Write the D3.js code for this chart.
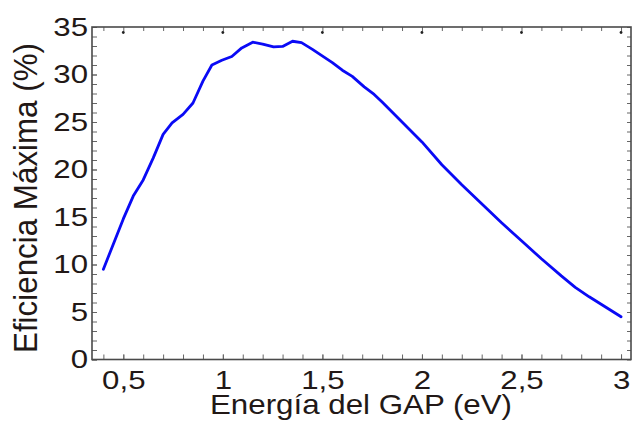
<!DOCTYPE html>
<html>
<head>
<meta charset="utf-8">
<script src="https://cdn.jsdelivr.net/npm/d3@7/dist/d3.min.js"></script>
<style>
    html, body { margin: 0; padding: 0; background: #fff; }
    #chart-area { width: 632px; height: 426px; }
    text { font-family: "Liberation Sans", Arial, sans-serif; fill: #221816; }
</style>
</head>
<body>
<div id="chart-area"></div>
<script>
// band gap (eV) vs. maximum efficiency (%)
const gapEnergy = [0.40, 0.50, 0.55, 0.60, 0.65, 0.70, 0.745, 0.80, 0.85, 0.90, 0.945, 0.995,
    1.045, 1.095, 1.15, 1.20, 1.255, 1.30, 1.35, 1.395, 1.45, 1.55, 1.60, 1.65, 1.71, 1.76,
    1.80, 1.90, 2.00, 2.10, 2.20, 2.30, 2.40, 2.50, 2.60, 2.70, 2.77, 2.84, 2.92, 3.00];
const efficiency = [9.5, 14.8, 17.2, 18.9, 21.2, 23.7, 24.9, 25.8, 27.0, 29.3, 31.0, 31.5,
    31.9, 32.8, 33.4, 33.2, 32.9, 32.95, 33.5, 33.35, 32.65, 31.25, 30.45, 29.8, 28.7, 27.9,
    27.1, 25.0, 22.9, 20.5, 18.4, 16.4, 14.4, 12.5, 10.6, 8.8, 7.6, 6.6, 5.55, 4.5];

const xTicks = [0.5, 1, 1.5, 2, 2.5, 3];
const xMinorTicks = d3.range(4, 31).map(d => d / 10);
const yTicks = [0, 5, 10, 15, 20, 25, 30, 35];
const yMinorTicks = d3.range(0, 36);

const xTitle = 'Energía del GAP (eV)';
const yTitle = 'Eficiencia Máxima (%)';

(function () {
    'use strict';

    const WIDTH = 632;
    const HEIGHT = 426;
    const PLOT = {left: 92, right: 631, top: 27, bottom: 359.5};
    const STRETCH = 1.2;   // the original lettering is a bit wide

    const svg = d3.select('#chart-area').append('svg')
        .attr('width', WIDTH)
        .attr('height', HEIGHT);

    const xScale = d3.scaleLinear()
        .domain([0.3428, 3.05])
        .range([PLOT.left, PLOT.right]);

    const yScale = d3.scaleLinear()
        .domain([0, 35])
        .range([PLOT.bottom, PLOT.top]);

    const fmt = d => String(d).replace('.', ',');

    // minor ticks, all inward
    svg.append('g')
        .attr('transform', `translate(0, ${PLOT.bottom})`)
        .call(d3.axisBottom(xScale).tickValues(xMinorTicks).tickSize(-5).tickFormat(''))
        .call(g => g.select('.domain').remove());
    svg.append('g')
        .attr('transform', `translate(0, ${PLOT.top})`)
        .call(d3.axisTop(xScale).tickValues(xMinorTicks).tickSize(-4).tickFormat(''))
        .call(g => g.select('.domain').remove());
    svg.append('g')
        .attr('transform', `translate(${PLOT.left}, 0)`)
        .call(d3.axisLeft(yScale).tickValues(yMinorTicks).tickSize(-5).tickFormat(''))
        .call(g => g.select('.domain').remove());
    svg.append('g')
        .attr('transform', `translate(${PLOT.right}, 0)`)
        .call(d3.axisRight(yScale).tickValues(yMinorTicks).tickSize(-4).tickFormat(''))
        .call(g => g.select('.domain').remove());
    svg.selectAll('.tick line').attr('stroke', '#666').attr('stroke-width', 1);

    // dots on the top axis at the major positions
    svg.append('g')
        .selectAll('circle')
        .data(xTicks)
        .enter()
        .append('circle')
        .attr('cx', d => xScale(d))
        .attr('cy', PLOT.top + 5.5)
        .attr('r', 1.4)
        .attr('fill', '#222');

    // labelled axes
    const xAxisGroup = svg.append('g')
        .attr('transform', `translate(0, ${PLOT.bottom})`)
        .call(d3.axisBottom(xScale).tickValues(xTicks).tickSize(-5).tickPadding(10).tickFormat(fmt));
    const yAxisGroup = svg.append('g')
        .attr('transform', `translate(${PLOT.left}, 0)`)
        .call(d3.axisLeft(yScale).tickValues(yTicks).tickSize(-5).tickPadding(4));

    [xAxisGroup, yAxisGroup].forEach(g => {
        g.select('.domain').remove();
        g.selectAll('.tick line').attr('stroke', '#666');
        g.selectAll('.tick text')
            .attr('font-family', '"Liberation Sans", Arial, sans-serif')
            .attr('font-size', 26)
            .attr('fill', '#221816')
            .each(function () {
                const len = this.getComputedTextLength();
                d3.select(this)
                    .attr('textLength', len * STRETCH)
                    .attr('lengthAdjust', 'spacingAndGlyphs');
            });
    });
    xAxisGroup.selectAll('.tick text').attr('dy', '0.74em');

    // frame
    svg.append('rect')
        .attr('x', PLOT.left)
        .attr('y', PLOT.top)
        .attr('width', PLOT.right - PLOT.left)
        .attr('height', PLOT.bottom - PLOT.top)
        .attr('fill', 'none')
        .attr('stroke', '#4a4a4a')
        .attr('stroke-width', 1.6);

    // curve
    const line = d3.line()
        .x(d => xScale(d[0]))
        .y(d => yScale(d[1]));

    svg.append('path')
        .datum(d3.zip(gapEnergy, efficiency))
        .attr('d', line)
        .attr('fill', 'none')
        .attr('stroke', '#0a0af5')
        .attr('stroke-width', 2.8)
        .attr('stroke-linejoin', 'round')
        .attr('stroke-linecap', 'round');

    // titles
    svg.append('text')
        .attr('x', 361)
        .attr('y', 414)
        .attr('text-anchor', 'middle')
        .attr('font-size', 27.5)
        .attr('textLength', 302)
        .attr('lengthAdjust', 'spacingAndGlyphs')
        .text(xTitle);

    svg.append('text')
        .attr('transform', `translate(37, 198) scale(1.17, 1) rotate(-90)`)
        .attr('text-anchor', 'middle')
        .attr('font-size', 28.5)
        .attr('textLength', 310)
        .attr('lengthAdjust', 'spacingAndGlyphs')
        .text(yTitle);
})();
</script>
</body>
</html>
